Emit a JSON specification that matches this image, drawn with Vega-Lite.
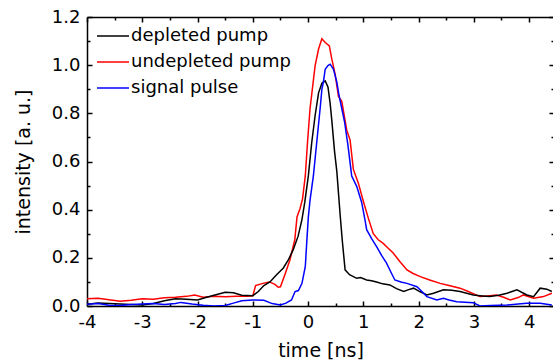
{
  "$schema": "https://vega.github.io/schema/vega-lite/v6.json",
  "width": 467,
  "height": 289,
  "autosize": {"type": "none"},
  "padding": {"left": 87, "top": 17, "right": 0, "bottom": 58},
  "background": "white",
  "config": {
    "view": {"stroke": null},
    "font": "DejaVu Sans",
    "axis": {
      "grid": false,
      "domainColor": "black",
      "domainWidth": 1.5,
      "tickColor": "black",
      "tickWidth": 1.5,
      "labelColor": "black",
      "labelFont": "DejaVu Sans",
      "labelFontSize": 18,
      "titleFont": "DejaVu Sans",
      "titleFontSize": 19,
      "titleFontWeight": "normal",
      "titleColor": "black"
    }
  },
  "data": {
    "values": [
      {"t": -4.0, "v": 0.030, "s": "undepleted pump"},
      {"t": -3.8, "v": 0.032, "s": "undepleted pump"},
      {"t": -3.6, "v": 0.026, "s": "undepleted pump"},
      {"t": -3.4, "v": 0.020, "s": "undepleted pump"},
      {"t": -3.2, "v": 0.024, "s": "undepleted pump"},
      {"t": -3.0, "v": 0.030, "s": "undepleted pump"},
      {"t": -2.8, "v": 0.028, "s": "undepleted pump"},
      {"t": -2.6, "v": 0.034, "s": "undepleted pump"},
      {"t": -2.4, "v": 0.036, "s": "undepleted pump"},
      {"t": -2.2, "v": 0.040, "s": "undepleted pump"},
      {"t": -2.05, "v": 0.046, "s": "undepleted pump"},
      {"t": -1.9, "v": 0.036, "s": "undepleted pump"},
      {"t": -1.7, "v": 0.040, "s": "undepleted pump"},
      {"t": -1.5, "v": 0.038, "s": "undepleted pump"},
      {"t": -1.3, "v": 0.040, "s": "undepleted pump"},
      {"t": -1.1, "v": 0.040, "s": "undepleted pump"},
      {"t": -1.0, "v": 0.042, "s": "undepleted pump"},
      {"t": -0.95, "v": 0.085, "s": "undepleted pump"},
      {"t": -0.8, "v": 0.095, "s": "undepleted pump"},
      {"t": -0.7, "v": 0.100, "s": "undepleted pump"},
      {"t": -0.6, "v": 0.090, "s": "undepleted pump"},
      {"t": -0.54, "v": 0.078, "s": "undepleted pump"},
      {"t": -0.5, "v": 0.080, "s": "undepleted pump"},
      {"t": -0.42, "v": 0.130, "s": "undepleted pump"},
      {"t": -0.33, "v": 0.190, "s": "undepleted pump"},
      {"t": -0.24, "v": 0.275, "s": "undepleted pump"},
      {"t": -0.2, "v": 0.370, "s": "undepleted pump"},
      {"t": -0.145, "v": 0.405, "s": "undepleted pump"},
      {"t": -0.1, "v": 0.445, "s": "undepleted pump"},
      {"t": -0.05, "v": 0.540, "s": "undepleted pump"},
      {"t": -0.01, "v": 0.680, "s": "undepleted pump"},
      {"t": 0.036, "v": 0.820, "s": "undepleted pump"},
      {"t": 0.07, "v": 0.886, "s": "undepleted pump"},
      {"t": 0.127, "v": 0.997, "s": "undepleted pump"},
      {"t": 0.19, "v": 1.067, "s": "undepleted pump"},
      {"t": 0.25, "v": 1.110, "s": "undepleted pump"},
      {"t": 0.31, "v": 1.094, "s": "undepleted pump"},
      {"t": 0.385, "v": 1.080, "s": "undepleted pump"},
      {"t": 0.43, "v": 1.025, "s": "undepleted pump"},
      {"t": 0.49, "v": 0.962, "s": "undepleted pump"},
      {"t": 0.55, "v": 0.870, "s": "undepleted pump"},
      {"t": 0.61, "v": 0.850, "s": "undepleted pump"},
      {"t": 0.70, "v": 0.730, "s": "undepleted pump"},
      {"t": 0.76, "v": 0.690, "s": "undepleted pump"},
      {"t": 0.82, "v": 0.567, "s": "undepleted pump"},
      {"t": 0.91, "v": 0.510, "s": "undepleted pump"},
      {"t": 1.0, "v": 0.435, "s": "undepleted pump"},
      {"t": 1.09, "v": 0.365, "s": "undepleted pump"},
      {"t": 1.18, "v": 0.300, "s": "undepleted pump"},
      {"t": 1.27, "v": 0.275, "s": "undepleted pump"},
      {"t": 1.36, "v": 0.260, "s": "undepleted pump"},
      {"t": 1.45, "v": 0.240, "s": "undepleted pump"},
      {"t": 1.54, "v": 0.220, "s": "undepleted pump"},
      {"t": 1.66, "v": 0.185, "s": "undepleted pump"},
      {"t": 1.79, "v": 0.150, "s": "undepleted pump"},
      {"t": 1.9, "v": 0.135, "s": "undepleted pump"},
      {"t": 2.03, "v": 0.122, "s": "undepleted pump"},
      {"t": 2.2, "v": 0.108, "s": "undepleted pump"},
      {"t": 2.39, "v": 0.094, "s": "undepleted pump"},
      {"t": 2.55, "v": 0.085, "s": "undepleted pump"},
      {"t": 2.75, "v": 0.074, "s": "undepleted pump"},
      {"t": 2.9, "v": 0.060, "s": "undepleted pump"},
      {"t": 3.11, "v": 0.039, "s": "undepleted pump"},
      {"t": 3.25, "v": 0.042, "s": "undepleted pump"},
      {"t": 3.41, "v": 0.046, "s": "undepleted pump"},
      {"t": 3.55, "v": 0.035, "s": "undepleted pump"},
      {"t": 3.66, "v": 0.025, "s": "undepleted pump"},
      {"t": 3.8, "v": 0.035, "s": "undepleted pump"},
      {"t": 3.9, "v": 0.046, "s": "undepleted pump"},
      {"t": 4.08, "v": 0.032, "s": "undepleted pump"},
      {"t": 4.26, "v": 0.039, "s": "undepleted pump"},
      {"t": 4.41, "v": 0.053, "s": "undepleted pump"},

      {"t": -4.0, "v": 0.007, "s": "depleted pump"},
      {"t": -3.8, "v": 0.012, "s": "depleted pump"},
      {"t": -3.6, "v": 0.010, "s": "depleted pump"},
      {"t": -3.4, "v": 0.008, "s": "depleted pump"},
      {"t": -3.2, "v": 0.006, "s": "depleted pump"},
      {"t": -3.0, "v": 0.004, "s": "depleted pump"},
      {"t": -2.8, "v": 0.010, "s": "depleted pump"},
      {"t": -2.6, "v": 0.022, "s": "depleted pump"},
      {"t": -2.4, "v": 0.030, "s": "depleted pump"},
      {"t": -2.2, "v": 0.028, "s": "depleted pump"},
      {"t": -2.0, "v": 0.025, "s": "depleted pump"},
      {"t": -1.85, "v": 0.035, "s": "depleted pump"},
      {"t": -1.7, "v": 0.045, "s": "depleted pump"},
      {"t": -1.5, "v": 0.057, "s": "depleted pump"},
      {"t": -1.35, "v": 0.055, "s": "depleted pump"},
      {"t": -1.2, "v": 0.045, "s": "depleted pump"},
      {"t": -1.0, "v": 0.043, "s": "depleted pump"},
      {"t": -0.9, "v": 0.060, "s": "depleted pump"},
      {"t": -0.8, "v": 0.085, "s": "depleted pump"},
      {"t": -0.69, "v": 0.100, "s": "depleted pump"},
      {"t": -0.57, "v": 0.130, "s": "depleted pump"},
      {"t": -0.45, "v": 0.157, "s": "depleted pump"},
      {"t": -0.36, "v": 0.190, "s": "depleted pump"},
      {"t": -0.27, "v": 0.233, "s": "depleted pump"},
      {"t": -0.18, "v": 0.290, "s": "depleted pump"},
      {"t": -0.11, "v": 0.360, "s": "depleted pump"},
      {"t": -0.06, "v": 0.430, "s": "depleted pump"},
      {"t": 0.005, "v": 0.540, "s": "depleted pump"},
      {"t": 0.067, "v": 0.680, "s": "depleted pump"},
      {"t": 0.127, "v": 0.790, "s": "depleted pump"},
      {"t": 0.19, "v": 0.885, "s": "depleted pump"},
      {"t": 0.25, "v": 0.925, "s": "depleted pump"},
      {"t": 0.31, "v": 0.935, "s": "depleted pump"},
      {"t": 0.36, "v": 0.910, "s": "depleted pump"},
      {"t": 0.40, "v": 0.840, "s": "depleted pump"},
      {"t": 0.43, "v": 0.770, "s": "depleted pump"},
      {"t": 0.48, "v": 0.640, "s": "depleted pump"},
      {"t": 0.52, "v": 0.560, "s": "depleted pump"},
      {"t": 0.58, "v": 0.380, "s": "depleted pump"},
      {"t": 0.62, "v": 0.270, "s": "depleted pump"},
      {"t": 0.67, "v": 0.150, "s": "depleted pump"},
      {"t": 0.75, "v": 0.130, "s": "depleted pump"},
      {"t": 0.88, "v": 0.115, "s": "depleted pump"},
      {"t": 0.95, "v": 0.118, "s": "depleted pump"},
      {"t": 1.06, "v": 0.108, "s": "depleted pump"},
      {"t": 1.15, "v": 0.105, "s": "depleted pump"},
      {"t": 1.24, "v": 0.100, "s": "depleted pump"},
      {"t": 1.35, "v": 0.092, "s": "depleted pump"},
      {"t": 1.48, "v": 0.0875, "s": "depleted pump"},
      {"t": 1.6, "v": 0.072, "s": "depleted pump"},
      {"t": 1.73, "v": 0.060, "s": "depleted pump"},
      {"t": 1.82, "v": 0.068, "s": "depleted pump"},
      {"t": 1.91, "v": 0.074, "s": "depleted pump"},
      {"t": 2.02, "v": 0.060, "s": "depleted pump"},
      {"t": 2.15, "v": 0.046, "s": "depleted pump"},
      {"t": 2.27, "v": 0.053, "s": "depleted pump"},
      {"t": 2.45, "v": 0.067, "s": "depleted pump"},
      {"t": 2.6, "v": 0.065, "s": "depleted pump"},
      {"t": 2.75, "v": 0.060, "s": "depleted pump"},
      {"t": 2.99, "v": 0.046, "s": "depleted pump"},
      {"t": 3.15, "v": 0.042, "s": "depleted pump"},
      {"t": 3.29, "v": 0.039, "s": "depleted pump"},
      {"t": 3.45, "v": 0.045, "s": "depleted pump"},
      {"t": 3.6, "v": 0.053, "s": "depleted pump"},
      {"t": 3.78, "v": 0.067, "s": "depleted pump"},
      {"t": 3.96, "v": 0.046, "s": "depleted pump"},
      {"t": 4.08, "v": 0.039, "s": "depleted pump"},
      {"t": 4.2, "v": 0.074, "s": "depleted pump"},
      {"t": 4.32, "v": 0.070, "s": "depleted pump"},
      {"t": 4.41, "v": 0.060, "s": "depleted pump"},

      {"t": -4.0, "v": 0.007, "s": "signal pulse"},
      {"t": -3.8, "v": 0.010, "s": "signal pulse"},
      {"t": -3.6, "v": 0.003, "s": "signal pulse"},
      {"t": -3.4, "v": 0.002, "s": "signal pulse"},
      {"t": -3.2, "v": 0.006, "s": "signal pulse"},
      {"t": -3.0, "v": 0.008, "s": "signal pulse"},
      {"t": -2.8, "v": 0.010, "s": "signal pulse"},
      {"t": -2.6, "v": 0.006, "s": "signal pulse"},
      {"t": -2.4, "v": 0.010, "s": "signal pulse"},
      {"t": -2.3, "v": 0.015, "s": "signal pulse"},
      {"t": -2.1, "v": 0.008, "s": "signal pulse"},
      {"t": -1.9, "v": 0.003, "s": "signal pulse"},
      {"t": -1.7, "v": 0.000, "s": "signal pulse"},
      {"t": -1.5, "v": 0.002, "s": "signal pulse"},
      {"t": -1.35, "v": 0.012, "s": "signal pulse"},
      {"t": -1.2, "v": 0.022, "s": "signal pulse"},
      {"t": -1.0, "v": 0.025, "s": "signal pulse"},
      {"t": -0.8, "v": 0.024, "s": "signal pulse"},
      {"t": -0.65, "v": 0.010, "s": "signal pulse"},
      {"t": -0.5, "v": 0.004, "s": "signal pulse"},
      {"t": -0.4, "v": 0.012, "s": "signal pulse"},
      {"t": -0.3, "v": 0.025, "s": "signal pulse"},
      {"t": -0.235, "v": 0.060, "s": "signal pulse"},
      {"t": -0.175, "v": 0.064, "s": "signal pulse"},
      {"t": -0.11, "v": 0.094, "s": "signal pulse"},
      {"t": -0.05, "v": 0.164, "s": "signal pulse"},
      {"t": -0.025, "v": 0.260, "s": "signal pulse"},
      {"t": 0.005, "v": 0.370, "s": "signal pulse"},
      {"t": 0.036, "v": 0.440, "s": "signal pulse"},
      {"t": 0.096, "v": 0.540, "s": "signal pulse"},
      {"t": 0.157, "v": 0.680, "s": "signal pulse"},
      {"t": 0.217, "v": 0.817, "s": "signal pulse"},
      {"t": 0.25, "v": 0.900, "s": "signal pulse"},
      {"t": 0.277, "v": 0.930, "s": "signal pulse"},
      {"t": 0.31, "v": 0.983, "s": "signal pulse"},
      {"t": 0.36, "v": 0.998, "s": "signal pulse"},
      {"t": 0.40, "v": 1.004, "s": "signal pulse"},
      {"t": 0.46, "v": 0.983, "s": "signal pulse"},
      {"t": 0.52, "v": 0.930, "s": "signal pulse"},
      {"t": 0.56, "v": 0.875, "s": "signal pulse"},
      {"t": 0.61, "v": 0.820, "s": "signal pulse"},
      {"t": 0.66, "v": 0.765, "s": "signal pulse"},
      {"t": 0.72, "v": 0.670, "s": "signal pulse"},
      {"t": 0.79, "v": 0.540, "s": "signal pulse"},
      {"t": 0.88, "v": 0.497, "s": "signal pulse"},
      {"t": 0.97, "v": 0.430, "s": "signal pulse"},
      {"t": 1.03, "v": 0.358, "s": "signal pulse"},
      {"t": 1.06, "v": 0.317, "s": "signal pulse"},
      {"t": 1.15, "v": 0.280, "s": "signal pulse"},
      {"t": 1.24, "v": 0.247, "s": "signal pulse"},
      {"t": 1.33, "v": 0.210, "s": "signal pulse"},
      {"t": 1.42, "v": 0.178, "s": "signal pulse"},
      {"t": 1.5, "v": 0.140, "s": "signal pulse"},
      {"t": 1.57, "v": 0.108, "s": "signal pulse"},
      {"t": 1.68, "v": 0.100, "s": "signal pulse"},
      {"t": 1.79, "v": 0.094, "s": "signal pulse"},
      {"t": 1.97, "v": 0.080, "s": "signal pulse"},
      {"t": 2.06, "v": 0.060, "s": "signal pulse"},
      {"t": 2.15, "v": 0.039, "s": "signal pulse"},
      {"t": 2.33, "v": 0.025, "s": "signal pulse"},
      {"t": 2.45, "v": 0.032, "s": "signal pulse"},
      {"t": 2.55, "v": 0.025, "s": "signal pulse"},
      {"t": 2.69, "v": 0.018, "s": "signal pulse"},
      {"t": 2.99, "v": 0.014, "s": "signal pulse"},
      {"t": 3.11, "v": 0.000, "s": "signal pulse"},
      {"t": 3.3, "v": 0.002, "s": "signal pulse"},
      {"t": 3.6, "v": 0.004, "s": "signal pulse"},
      {"t": 3.8, "v": 0.008, "s": "signal pulse"},
      {"t": 3.96, "v": 0.011, "s": "signal pulse"},
      {"t": 4.2, "v": 0.011, "s": "signal pulse"},
      {"t": 4.41, "v": 0.004, "s": "signal pulse"}
    ]
  },
  "layer": [
    {
      "mark": {"type": "line", "strokeWidth": 1.5, "clip": true},
      "encoding": {
        "x": {
          "field": "t", "type": "quantitative",
          "scale": {"domain": [-4, 4.45], "nice": false, "zero": false},
          "axis": {
            "orient": "bottom",
            "title": "time [ns]",
            "values": [-4, -3.5, -3, -2.5, -2, -1.5, -1, -0.5, 0, 0.5, 1, 1.5, 2, 2.5, 3, 3.5, 4],
            "labelExpr": "datum.value % 1 === 0 ? toString(datum.value) : ''",
            "tickSize": {"condition": {"test": "datum.value % 1 === 0", "value": -5}, "value": -3},
            "labelPadding": 12,
            "labelFlush": false,
            "labelOverlap": false,
            "titlePadding": 8
          }
        },
        "y": {
          "field": "v", "type": "quantitative",
          "scale": {"domain": [0, 1.2], "nice": false},
          "axis": {
            "orient": "left",
            "title": "intensity [a. u.]",
            "values": [0, 0.1, 0.2, 0.3, 0.4, 0.5, 0.6, 0.7, 0.8, 0.9, 1.0, 1.1, 1.2],
            "labelExpr": "round(datum.value * 10) % 2 === 0 ? format(datum.value, '.1f') : ''",
            "tickSize": {"condition": {"test": "round(datum.value * 10) % 2 === 0", "value": -5}, "value": -3},
            "labelPadding": 12,
            "labelFlush": false,
            "labelOverlap": false,
            "titlePadding": 18
          }
        },
        "color": {
          "field": "s", "type": "nominal",
          "scale": {"domain": ["depleted pump", "undepleted pump", "signal pulse"], "range": ["#000000", "#ff0000", "#0000ff"]},
          "legend": {
            "orient": "none",
            "legendX": 9,
            "legendY": 2,
            "title": null,
            "padding": 0,
            "symbolType": "stroke",
            "symbolSize": 1024,
            "symbolStrokeWidth": 1.5,
            "labelFont": "DejaVu Sans",
            "labelFontSize": 18,
            "labelColor": "black",
            "labelOffset": 1,
            "labelLimit": 300,
            "rowPadding": -6
          }
        }
      }
    },
    {
      "mark": {"type": "line", "strokeOpacity": 0},
      "encoding": {
        "x": {
          "field": "t", "type": "quantitative",
          "axis": {
            "orient": "top",
            "title": null,
            "values": [-4, -3.5, -3, -2.5, -2, -1.5, -1, -0.5, 0, 0.5, 1, 1.5, 2, 2.5, 3, 3.5, 4],
            "labels": false,
            "tickSize": {"condition": {"test": "datum.value % 1 === 0", "value": -5}, "value": -3}
          }
        },
        "y": {
          "field": "v", "type": "quantitative",
          "axis": {
            "orient": "right",
            "title": null,
            "values": [0, 0.1, 0.2, 0.3, 0.4, 0.5, 0.6, 0.7, 0.8, 0.9, 1.0, 1.1, 1.2],
            "labels": false,
            "tickSize": {"condition": {"test": "round(datum.value * 10) % 2 === 0", "value": -5}, "value": -3}
          }
        },
        "detail": {"field": "s", "type": "nominal"}
      }
    }
  ],
  "resolve": {"axis": {"x": "independent", "y": "independent"}}
}
